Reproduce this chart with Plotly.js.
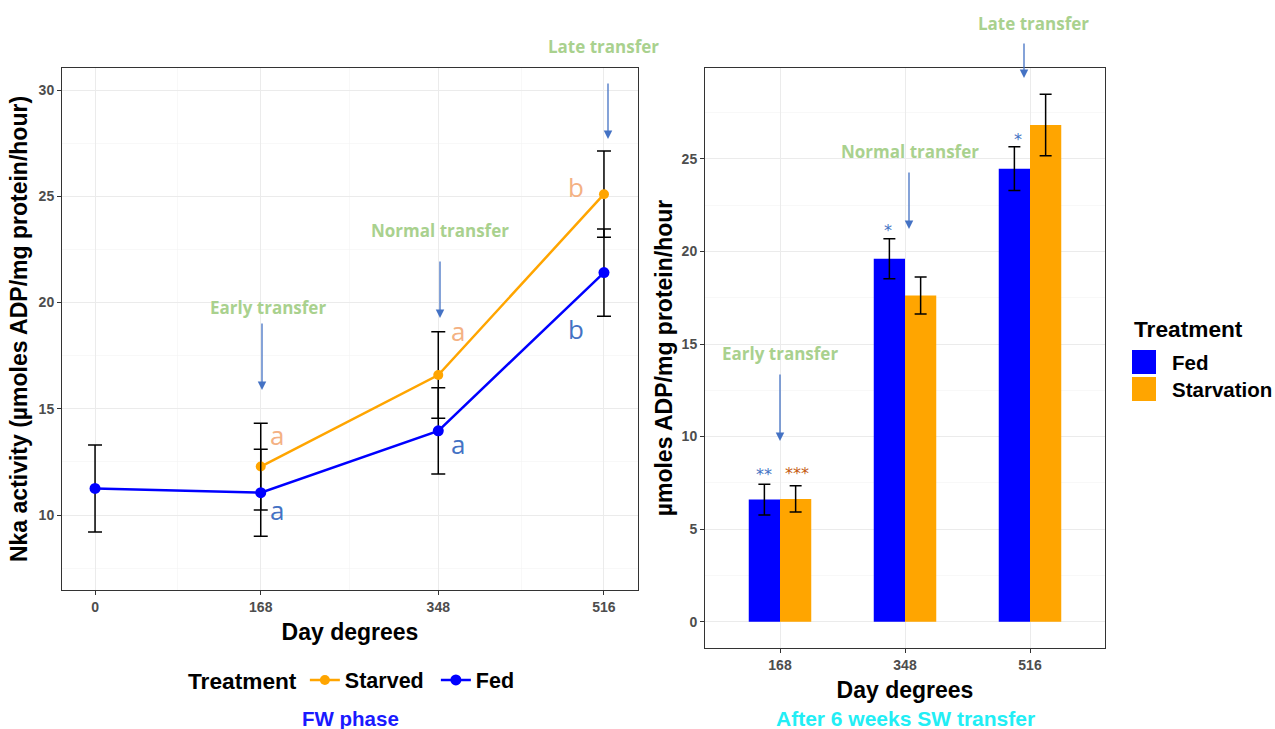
<!DOCTYPE html>
<html><head><meta charset="utf-8">
<script src="https://cdn.plot.ly/plotly-3.0.1.min.js"></script>
<style>html,body{margin:0;padding:0;background:#fff}#chart{width:1275px;height:729px}</style>
</head><body><div id="chart"></div>
<script>
// ---- Data: FW phase (left panel) ----
const fwDays = [0, 168, 348, 516];
const fwFed = [11.25, 11.05, 13.96, 21.41];
const fwFedErr = [2.05, 2.05, 2.03, 2.05];
const fwStarvedDays = [168, 348, 516];
const fwStarved = [12.28, 16.59, 25.10];
const fwStarvedErr = [2.04, 2.04, 2.03];
const fwLettersFed = ['a', 'a', 'b'];      // at 168, 348, 516
const fwLettersStarved = ['a', 'a', 'b'];

// ---- Data: after 6 weeks SW transfer (right panel) ----
const swCats = ['168', '348', '516'];
const swFed = [6.60, 19.60, 24.47];
const swFedErr = [0.83, 1.08, 1.18];
const swStarv = [6.63, 17.62, 26.83];
const swStarvErr = [0.71, 1.00, 1.66];
const swStarsFed = ['**', '*', '*'];
const swStarsStarv = ['***', '', ''];
const swLegendNames = ['Fed', 'Starvation'];
const swColors = ['#0000FF', '#FFA500'];

const W = 1275, H = 729;
const px = x => x / W;
const py = y => 1 - y / H;

const SANS = 'Liberation Sans, Arial';
const tickFont = {family: SANS, size: 14, color: '#4D4D4D', weight: 'bold'};
const titleFont = {family: SANS, size: 23, color: '#000', weight: 'bold'};
const GREEN = '#A9D18E', ABLUE = '#4472C4', LORANGE = '#F4B183';

const traces = [
  {x: fwStarvedDays, y: fwStarved, name: 'Starved', type: 'scatter', mode: 'lines+markers',
   xaxis: 'x', yaxis: 'y',
   line: {color: '#FFA500', width: 2.5}, marker: {color: '#FFA500', size: 10},
   error_y: {type: 'data', array: fwStarvedErr, color: '#000', thickness: 1.5, width: 7}},
  {x: fwDays, y: fwFed, name: 'Fed', type: 'scatter', mode: 'lines+markers',
   xaxis: 'x', yaxis: 'y',
   line: {color: '#0000FF', width: 2.5}, marker: {color: '#0000FF', size: 11},
   error_y: {type: 'data', array: fwFedErr, color: '#000', thickness: 1.5, width: 7}},
  {x: swCats, y: swFed, name: swLegendNames[0], type: 'bar', xaxis: 'x2', yaxis: 'y2', showlegend: false,
   marker: {color: swColors[0]},
   error_y: {type: 'data', array: swFedErr, color: '#000', thickness: 1.5, width: 6}},
  {x: swCats, y: swStarv, name: swLegendNames[1], type: 'bar', xaxis: 'x2', yaxis: 'y2', showlegend: false,
   marker: {color: swColors[1]},
   error_y: {type: 'data', array: swStarvErr, color: '#000', thickness: 1.5, width: 6}}
];

const ann = [];
const shapes = [];
function txt(x, y, text, font, extra) {
  ann.push(Object.assign({xref: 'paper', yref: 'paper', x: px(x), y: py(y), text: text,
    showarrow: false, xanchor: 'center', yanchor: 'middle', font: font}, extra || {}));
}
const greenFont = {family: 'Open Sans, Noto Sans', size: 17, color: GREEN, weight: 'bold'};
function arrow(x, y0, y1) {
  ann.push({xref: 'paper', yref: 'paper', x: px(x), y: py(y1), ax: 0, ay: -(y1 - y0), text: '',
    showarrow: true, arrowhead: 2, arrowsize: 1.3, arrowwidth: 1.3, arrowcolor: ABLUE, standoff: 0});
}
// transfer labels & arrows
txt(268, 307, 'Early transfer', greenFont); arrow(262, 322, 390);
txt(440, 230, 'Normal transfer', greenFont); arrow(440, 260, 318);
txt(603, 47, 'Late transfer', greenFont); arrow(608, 82, 139);
txt(780, 353, 'Early transfer', greenFont); arrow(780, 373, 441);
txt(910, 152, 'Normal transfer', greenFont); arrow(909, 171, 229);
txt(1033, 24, 'Late transfer', greenFont); arrow(1024, 42, 78);

// significance letters (left)
const letterFont = c => ({family: 'Open Sans, Noto Sans', size: 26, color: c});
const lf = [[277, 510], [458, 444], [576, 329]];
const ls = [[277, 435], [458, 331], [576, 187]];
fwLettersFed.forEach((t, i) => txt(lf[i][0], lf[i][1], t, letterFont(ABLUE)));
fwLettersStarved.forEach((t, i) => txt(ls[i][0], ls[i][1], t, letterFont(LORANGE)));

// stars (right)
const starFont = c => ({family: 'DejaVu Sans', size: 16, color: c});
const sf = [[764, 474], [888, 230], [1018, 140]];
swStarsFed.forEach((t, i) => { if (t) txt(sf[i][0], sf[i][1], t, starFont(ABLUE)); });
swStarsStarv.forEach((t, i) => { if (t) txt(797, 473, t, starFont('#C55A11')); });

// captions
txt(350, 718, 'FW phase', {family: SANS, size: 20.5, color: '#1A1AFF', weight: 'bold'});
txt(905, 718, 'After 6 weeks SW transfer', {family: SANS, size: 21, color: '#22EEF5', weight: 'bold'});

// right-hand legend (drawn manually for large swatches)
txt(1132, 329, 'Treatment', {family: SANS, size: 22.7, color: '#000', weight: 'bold'}, {xanchor: 'left'});
swLegendNames.forEach((n, i) => {
  const yc = 362 + i * 27;
  shapes.push({type: 'rect', xref: 'paper', yref: 'paper', x0: px(1132), x1: px(1156),
    y0: py(yc - 12), y1: py(yc + 12), fillcolor: swColors[i], line: {width: 0}});
  txt(1170, yc, n, {family: SANS, size: 20.5, color: '#000', weight: 'bold'}, {xanchor: 'left'});
});

const axisCommon = {
  showline: true, mirror: true, linecolor: '#333333', linewidth: 1,
  ticks: 'outside', ticklen: 4, tickcolor: '#333333', tickwidth: 1,
  gridcolor: '#EBEBEB', gridwidth: 1, zeroline: false, tickfont: tickFont
};

const layout = {
  width: W, height: H, margin: {l: 0, r: 0, t: 0, b: 0},
  paper_bgcolor: '#fff', plot_bgcolor: '#fff',
  barmode: 'group', bargap: 0.5, bargroupgap: 0,
  xaxis: Object.assign({}, axisCommon, {
    domain: [px(62), px(638)], anchor: 'y', range: [-33.5, 550.5],
    tickmode: 'array', tickvals: fwDays, ticktext: fwDays.map(String),
    minor: {tickmode: 'array', tickvals: [84, 258, 432], showgrid: true, gridcolor: '#F3F3F3', gridwidth: 0.6, ticks: ''},
    title: {text: 'Day degrees', font: titleFont, standoff: 10}
  }),
  yaxis: Object.assign({}, axisCommon, {
    domain: [py(590), py(68)], anchor: 'x', range: [6.47, 31.04],
    tickmode: 'array', tickvals: [10, 15, 20, 25, 30],
    minor: {tickmode: 'array', tickvals: [7.5, 12.5, 17.5, 22.5, 27.5], showgrid: true, gridcolor: '#F3F3F3', gridwidth: 0.6, ticks: ''},
    title: {text: 'Nka activity (µmoles ADP/mg protein/hour)', font: titleFont, standoff: 4}
  }),
  xaxis2: Object.assign({}, axisCommon, {
    domain: [px(705), px(1105)], anchor: 'y2', type: 'category', range: [-0.6, 2.6],
    title: {text: 'Day degrees', font: titleFont, standoff: 10}
  }),
  yaxis2: Object.assign({}, axisCommon, {
    domain: [py(648), py(68)], anchor: 'x2', range: [-1.42, 29.91],
    tickmode: 'array', tickvals: [0, 5, 10, 15, 20, 25],
    minor: {tickmode: 'array', tickvals: [2.5, 7.5, 12.5, 17.5, 22.5, 27.5], showgrid: true, gridcolor: '#F3F3F3', gridwidth: 0.6, ticks: ''},
    title: {text: 'µmoles ADP/mg protein/hour', font: titleFont, standoff: 2}
  }),
  legend: {
    orientation: 'h', x: px(186), y: py(680), xanchor: 'left', yanchor: 'middle',
    bgcolor: 'rgba(0,0,0,0)', entrywidth: 86, entrywidthmode: 'pixels',
    title: {text: 'Treatment', side: 'left', font: {family: SANS, size: 22.7, color: '#000', weight: 'bold'}},
    font: {family: SANS, size: 21.5, color: '#000', weight: 'bold'}
  },
  annotations: ann,
  shapes: shapes
};

Plotly.newPlot('chart', traces, layout, {displayModeBar: false, staticPlot: true});
</script></body></html>
